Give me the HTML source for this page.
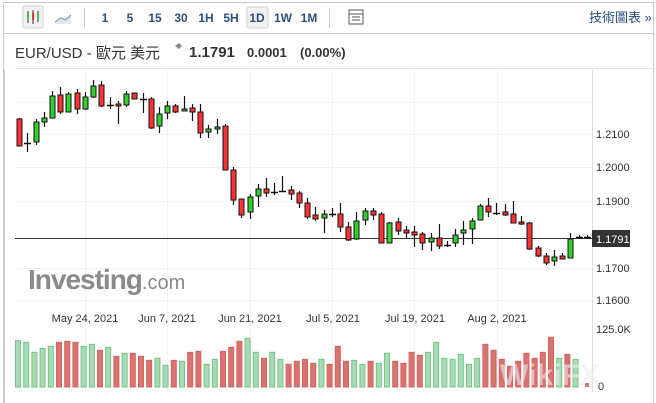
<!DOCTYPE html>
<html><head><meta charset="utf-8">
<style>
html,body{margin:0;padding:0;background:#fff;width:656px;height:403px;overflow:hidden;font-family:"Liberation Sans","Noto Sans CJK TC",sans-serif;}
svg{position:absolute;left:0;top:0}
</style></head><body>
<svg id="s" width="656" height="403" xmlns="http://www.w3.org/2000/svg" font-family="Liberation Sans, Noto Sans CJK TC, sans-serif">
<rect x="3.5" y="2.5" width="650" height="420" fill="none" stroke="#c8c8c8"/>
<line x1="3" y1="33.5" x2="654" y2="33.5" stroke="#c8c8c8"/>
<rect x="23" y="6" width="20" height="22" rx="2" fill="#f2f2f2" stroke="#d0d0d0"/>
<g stroke="#333" stroke-width="1"><line x1="28" y1="11" x2="28" y2="23"/><line x1="33" y1="10" x2="33" y2="24"/><line x1="38" y1="11" x2="38" y2="22"/></g>
<rect x="27" y="14" width="2" height="5" fill="#3c3"/><rect x="32" y="13" width="2" height="7" fill="#e33"/><rect x="37" y="14" width="2" height="4" fill="#3c3"/>
<path d="M55 23 L61 19 L65 21 L71 16 L71 24 L55 24Z" fill="#dfe7f2"/><path d="M55 22 L61 18 L65 20 L71 15" fill="none" stroke="#7a9cc6" stroke-width="1.2"/>
<line x1="84.5" y1="8" x2="84.5" y2="28" stroke="#d0d0d0"/>
<rect x="247" y="7" width="21" height="21" rx="2" fill="#f2f2f2" stroke="#d0d0d0"/>
<g font-size="12" font-weight="bold" fill="#2a4f7e" text-anchor="middle">
<text x="105" y="22">1</text><text x="130" y="22">5</text><text x="155" y="22">15</text><text x="181" y="22">30</text><text x="206" y="22">1H</text><text x="231" y="22">5H</text><text x="257" y="22">1D</text><text x="283" y="22">1W</text><text x="309" y="22">1M</text>
</g>
<line x1="329.5" y1="8" x2="329.5" y2="28" stroke="#d0d0d0"/>
<rect x="349" y="10" width="14" height="14" fill="none" stroke="#555"/><line x1="349" y1="14" x2="363" y2="14" stroke="#555"/><line x1="352" y1="17" x2="360" y2="17" stroke="#555"/><line x1="352" y1="20" x2="360" y2="20" stroke="#555"/>
<text x="589" y="22" font-size="13" fill="#2a4f7e">技術圖表 »</text>
<text x="15" y="58" font-size="15" fill="#333">EUR/USD - 歐元 美元</text>
<path d="M175 46 l4 -3 l3 3 l-3 3z" fill="#888"/>
<text x="189" y="57" font-size="15" font-weight="bold" fill="#333">1.1791</text>
<text x="247" y="57" font-size="13" font-weight="bold" fill="#333">0.0001</text>
<text x="300" y="57" font-size="13" font-weight="bold" fill="#333">(0.00%)</text>
<line x1="15" y1="68.5" x2="656" y2="68.5" stroke="#e6e6e6"/>
<g id="grid" stroke="#f1f1f1"></g>
<line x1="4.5" y1="70" x2="4.5" y2="403" stroke="#d0d0d0"/>
<line x1="592.5" y1="70" x2="592.5" y2="392" stroke="#dedede"/>
<text x="28" y="289" font-size="28" font-weight="bold" fill="#8a8a8a" letter-spacing="-1">Investing<tspan font-weight="normal" font-size="20" letter-spacing="0">.com</tspan></text>
<line x1="15" y1="238.5" x2="592" y2="238.5" stroke="#333"/>
<g id="c"></g>
<g id="v"></g>
<g font-size="11" fill="#333">
<text x="596" y="138">1.2100</text><text x="596" y="171">1.2000</text><text x="596" y="205">1.1900</text><text x="596" y="272">1.1700</text><text x="596" y="304">1.1600</text>
<text x="596" y="333">125.0K</text><text x="598" y="390">0</text>
</g>
<rect x="592" y="230" width="38" height="17" fill="#333"/>
<text x="596" y="243" font-size="11" fill="#fff">1.1791</text>
<g font-size="11" fill="#333" text-anchor="middle">
<text x="85" y="322">May 24, 2021</text><text x="167" y="322">Jun 7, 2021</text><text x="250" y="322">Jun 21, 2021</text><text x="333" y="322">Jul 5, 2021</text><text x="415" y="322">Jul 19, 2021</text><text x="497" y="322">Aug 2, 2021</text>
</g>
<text x="500" y="385" font-size="30" font-weight="bold" fill="#eee" opacity="0.6">WikiFX</text>
</svg>
<script>
var NS="http://www.w3.org/2000/svg";
function el(p,t,a){var e=document.createElementNS(NS,t);for(var k in a)e.setAttribute(k,a[k]);p.appendChild(e);return e;}
var g=document.getElementById('grid');
[102,134,167,201,268,300].forEach(function(y){el(g,'line',{x1:15,x2:592,y1:y+.5,y2:y+.5});});
[85,167,250,332,414,497].forEach(function(x){el(g,'line',{x1:x+.5,x2:x+.5,y1:70,y2:392});});
var C=[[19,119,146,118,146,'r'],[27,143,144,133,152,'d'],[36,122,142,119,145,'g'],[44,118,122,112,127,'g'],[52,96,118,91,118,'g'],[60,95,112,87,114,'r'],[68,94,112,92,112,'g'],[77,93,109,89,114,'r'],[85,97,109,92,110,'g'],[93,86,97,80,98,'g'],[101,85,106,81,107,'r'],[110,105,106,97,109,'d'],[118,104,106,101,124,'r'],[126,94,105,91,107,'g'],[134,93,99,93,99,'r'],[143,99,100,93,113,'d'],[151,99,128,97,129,'r'],[159,114,126,107,133,'g'],[167,106,113,101,119,'g'],[175,106,112,104,113,'r'],[184,109,111,96,111,'g'],[192,108,112,104,121,'r'],[200,112,133,104,138,'r'],[208,129,132,125,138,'g'],[217,127,129,119,134,'g'],[225,126,170,124,170,'r'],[233,170,200,167,205,'r'],[241,199,215,199,218,'r'],[250,197,212,194,219,'g'],[258,189,196,184,207,'g'],[266,189,193,178,197,'r'],[274,192,193,183,195,'d'],[282,191,192,176,192,'d'],[291,190,194,186,200,'r'],[299,193,203,191,208,'r'],[307,203,217,198,219,'r'],[315,215,219,207,221,'r'],[324,214,218,210,233,'g'],[332,214,215,208,217,'d'],[340,214,227,203,232,'r'],[348,227,240,222,241,'r'],[356,221,239,212,240,'g'],[365,211,220,208,225,'g'],[373,211,215,208,220,'r'],[381,214,243,212,243,'r'],[389,223,243,222,243,'g'],[398,222,231,218,235,'r'],[406,230,233,226,238,'r'],[414,232,235,226,247,'r'],[422,234,243,232,250,'r'],[431,238,242,233,251,'g'],[439,238,246,224,249,'r'],[447,245,246,241,247,'d'],[455,235,243,229,247,'g'],[463,230,233,221,245,'g'],[472,221,229,218,244,'g'],[480,206,220,204,220,'g'],[488,206,212,198,217,'r'],[496,213,214,203,215,'d'],[505,212,215,204,216,'r'],[513,214,223,201,223,'r'],[521,222,224,216,225,'r'],[529,223,249,222,250,'r'],[538,248,256,246,257,'r'],[546,256,263,253,265,'r'],[554,257,261,250,266,'g'],[562,256,259,253,259,'r'],[570,239,258,233,258,'g'],[579,237,238,235,239,'d'],[587,237,238,235,239,'d']];
var cg=document.getElementById('c');
C.forEach(function(c){
 el(cg,'line',{x1:c[0]+.5,x2:c[0]+.5,y1:c[3],y2:c[4],stroke:'#111','stroke-width':1.2});
 if(c[5]=='d'){el(cg,'line',{x1:c[0]-3,x2:c[0]+4,y1:c[1]+.5,y2:c[1]+.5,stroke:'#111','stroke-width':1.5});}
 else el(cg,'rect',{x:c[0]-2,y:c[1],width:5,height:Math.max(2,c[2]-c[1]),fill:c[5]=='g'?'#3c3':'#f33',stroke:'#111','stroke-width':1});
});
var H=[122,127,157,145,139,127,124,127,139,133,151,142,169,160,160,169,181,175,196,181,184,157,154,193,178,154,142,124,115,157,175,157,178,193,184,178,190,178,193,139,184,181,193,184,190,160,184,190,157,166,157,127,175,178,163,193,175,133,151,178,199,184,160,175,157,112,175,163,178];
var K="gggggrrrggrgrgrrrggrgrrggrrrggrggrrrrgrrrggrggrrrrgggggggrrrrrrrrrgrg";
var vg=document.getElementById('v');
H.forEach(function(h,i){var x=18+i*8.2,top=300+h/3,col=K[i]=='g';
 el(vg,'rect',{x:x-2.5,y:top,width:5,height:387-top,fill:col?'#a8dab4':'#d97370',stroke:col?'#74c387':'#d46360','stroke-width':1});});
el(vg,'rect',{x:585,y:383,width:4,height:4,fill:'#d97370'});
</script>
</body></html>
